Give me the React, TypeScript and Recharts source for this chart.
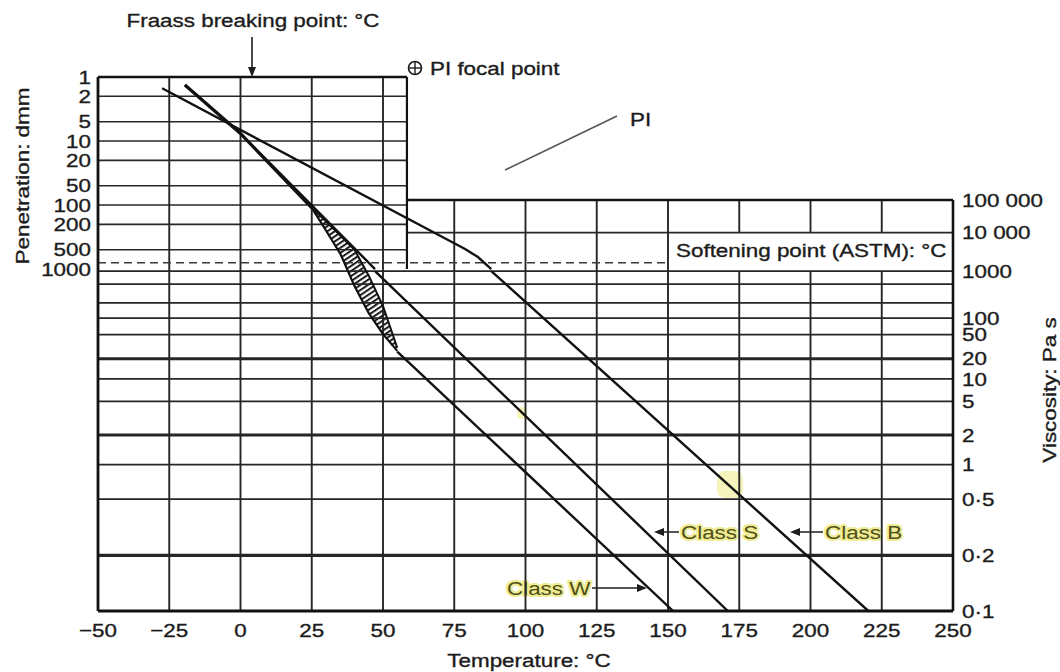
import React from "react";
import { ComposedChart, Line, Area, XAxis, YAxis, ReferenceLine } from "recharts";

// ---------- axis values ----------
const temperatureTicks = [-50, -25, 0, 25, 50, 75, 100, 125, 150, 175, 200, 225, 250];
const penetrationTicks = [1, 2, 5, 10, 20, 50, 100, 200, 500, 1000];
const viscosityTicks = [100000, 10000, 1000, 100, 50, 20, 10, 5, 2, 1, 0.5, 0.2, 0.1];
const viscosityTickLabels = ["100 000", "10 000", "1000", "100", "50", "20", "10", "5", "2", "1", "0·5", "0·2", "0·1"];

// ---------- grid values ----------
const penGridBox = [2, 5, 10, 20, 50, 100, 200, 500];
const viscGridFull = [0.5, 1, 5, 10, 50, 100, 200, 500, 1000];
const viscGridThick = [0.2, 2, 20];
const viscGridRight = [10000];
const tempGridFull = [-25, 0, 25, 50];
const tempGridRight = [75, 100, 125, 150];
const tempGridSplit = [175, 200, 225];
const boxEdgeTemp = 58.4;
const softeningPen = 800;
const softeningEndTemp = 150;

// ---------- series ----------
const classBPen = [
  { t: -27.5, pen: 1.5 },
  { t: 73.5, pen: 365 },
  { t: 78.8, pen: 487 },
  { t: 83.3, pen: 650 },
  { t: 88, pen: 1000 },
];
const classBVisc = [
  { t: 88, visc: 1000 },
  { t: 220.3, visc: 0.1 },
];
const classSPen = [
  { t: -19.5, pen: 1.33 },
  { t: -0.2, pen: 7.5 },
  { t: 47.2, pen: 1000 },
];
const classSVisc = [
  { t: 47.2, visc: 1000 },
  { t: 171, visc: 0.1 },
];
const classWPen = [
  { t: -19.5, pen: 1.33 },
  { t: -0.2, pen: 7.5 },
  { t: 25, pen: 111 },
];
const classWBand = [
  { t: 25, upper: 111, lower: 111 },
  { t: 30, upper: 180, lower: 250 },
  { t: 35, upper: 300, lower: 575 },
  { t: 40, upper: 500, lower: 1850 },
  { t: 45, upper: 1270, lower: 4900 },
  { t: 50, upper: 3800, lower: 10400 },
  { t: 55, upper: 17000, lower: 19000 },
];
const classWVisc = [
  { t: 55, visc: 26 },
  { t: 151.8, visc: 0.1 },
];

// viscosity scale of the chart: log(log(eta) + 2)
const vt = (v: number) => Math.log10(Math.log10(v) + 2);

const FONT = '"Liberation Sans", Arial, Helvetica, sans-serif';
const INK = "#1c1c1c";
const GRID = "#262626";
const SX = 1.18;

function WText(props: any) {
  const { x, y, children, anchor = "start", size = 19, fill = INK, rotate = 0, halo, dy = "0.35em" } = props;
  const strokeProps = halo
    ? { stroke: halo, strokeWidth: 4, paintOrder: "stroke", strokeLinejoin: "round" }
    : { stroke: fill, strokeWidth: 0.35 };
  return (
    <text
      transform={`translate(${x} ${y}) rotate(${rotate}) scale(${SX} 1)`}
      textAnchor={anchor}
      dy={dy}
      fontSize={size}
      fontFamily={FONT}
      fill={fill}
      {...strokeProps}
    >
      {children}
    </text>
  );
}

const fmtT = (v: number) => (v < 0 ? "\u2212" + Math.abs(v) : String(v));

const XTick = (p: any) => (
  <WText x={p.x} y={p.y} anchor="middle" dy="0.71em">
    {fmtT(p.payload.value)}
  </WText>
);
const PenTick = (p: any) => (
  <WText x={p.x} y={p.y} anchor="end">
    {String(Math.round(p.payload.value))}
  </WText>
);
const ViscTick = (p: any) => {
  const i = viscosityTicks.findIndex((t) => Math.abs(vt(t) - p.payload.value) < 1e-6);
  return (
    <WText x={p.x} y={p.y} anchor="start">
      {i >= 0 ? viscosityTickLabels[i] : ""}
    </WText>
  );
};

const lineCommon = {
  dot: false,
  activeDot: false,
  isAnimationActive: false,
  stroke: "#111",
  strokeWidth: 2.4,
  type: "linear" as const,
  xAxisId: 0,
};

export default function App() {
  return (
    <div style={{ position: "fixed", left: 0, top: 0, width: 1060, height: 672, background: "#fff" }}>
      <ComposedChart
        width={1060}
        height={672}
        margin={{ top: 77, right: 27, bottom: 21, left: 28 }}
        style={{ fontFamily: FONT }}
      >
        <defs>
          <pattern id="hatch" patternUnits="userSpaceOnUse" width="4.2" height="4.2" patternTransform="rotate(56)">
            <rect width="4.2" height="4.2" fill="#ffffff" />
            <line x1="1" y1="0" x2="1" y2="4.2" stroke="#1a1a1a" strokeWidth="2" />
          </pattern>
        </defs>

        <XAxis
          xAxisId={0}
          dataKey="t"
          type="number"
          domain={[-50, 250]}
          ticks={temperatureTicks}
          interval={0}
          allowDataOverflow
          axisLine={false}
          tickLine={false}
          tickSize={0}
          tickMargin={12}
          height={40}
          tick={XTick}
        />
        <YAxis
          yAxisId="pen"
          orientation="left"
          type="number"
          scale="log"
          domain={[1, 2.2e8]}
          reversed
          allowDataOverflow
          ticks={penetrationTicks}
          interval={0}
          axisLine={false}
          tickLine={false}
          tickSize={0}
          tickMargin={7}
          width={70}
          tick={PenTick}
        />
        <YAxis
          yAxisId="visc"
          orientation="right"
          type="number"
          domain={[0, 1.098]}
          allowDataOverflow
          ticks={viscosityTicks.map(vt)}
          interval={0}
          axisLine={false}
          tickLine={false}
          tickSize={0}
          tickMargin={9}
          width={80}
          tick={ViscTick}
        />

        {/* penetration box grid */}
        {penGridBox.map((p) => (
          <ReferenceLine
            key={"pg" + p}
            yAxisId="pen"
            ifOverflow="visible"
            segment={[{ x: -50, y: p }, { x: boxEdgeTemp, y: p }]}
            stroke={GRID}
            strokeWidth={1.7}
          />
        ))}
        {/* viscosity grid */}
        {viscGridFull.map((v) => (
          <ReferenceLine key={"vf" + v} yAxisId="visc" ifOverflow="visible" y={vt(v)} stroke={GRID} strokeWidth={1.7} />
        ))}
        {viscGridThick.map((v) => (
          <ReferenceLine key={"vt" + v} yAxisId="visc" ifOverflow="visible" y={vt(v)} stroke={GRID} strokeWidth={3.2} />
        ))}
        {viscGridRight.map((v) => (
          <ReferenceLine
            key={"vr" + v}
            yAxisId="visc"
            ifOverflow="visible"
            segment={[{ x: boxEdgeTemp, y: vt(v) }, { x: 250, y: vt(v) }]}
            stroke={GRID}
            strokeWidth={1.7}
          />
        ))}
        {/* vertical grid */}
        {tempGridFull.map((t) => (
          <ReferenceLine key={"tf" + t} yAxisId="visc" ifOverflow="visible" x={t} stroke={GRID} strokeWidth={1.9} />
        ))}
        {tempGridRight.map((t) => (
          <ReferenceLine
            key={"tr" + t}
            yAxisId="visc"
            ifOverflow="visible"
            segment={[{ x: t, y: vt(0.1) }, { x: t, y: vt(100000) }]}
            stroke={GRID}
            strokeWidth={1.9}
          />
        ))}
        {tempGridSplit.map((t) => (
          <ReferenceLine
            key={"ts1" + t}
            yAxisId="visc"
            ifOverflow="visible"
            segment={[{ x: t, y: vt(0.1) }, { x: t, y: vt(1000) }]}
            stroke={GRID}
            strokeWidth={1.9}
          />
        ))}
        {tempGridSplit.map((t) => (
          <ReferenceLine
            key={"ts2" + t}
            yAxisId="visc"
            ifOverflow="visible"
            segment={[{ x: t, y: vt(10000) }, { x: t, y: vt(100000) }]}
            stroke={GRID}
            strokeWidth={1.9}
          />
        ))}

        {/* softening point (ASTM) line */}
        <ReferenceLine
          yAxisId="pen"
          ifOverflow="visible"
          segment={[{ x: -50, y: softeningPen }, { x: softeningEndTemp, y: softeningPen }]}
          stroke="#3a3a3a"
          strokeWidth={1.5}
          strokeDasharray="8 5"
        />

        {/* borders */}
        <ReferenceLine yAxisId="visc" ifOverflow="visible" x={-50} stroke="#111" strokeWidth={2.8} />
        <ReferenceLine yAxisId="visc" ifOverflow="visible" y={vt(0.1)} stroke="#111" strokeWidth={3} />
        <ReferenceLine
          yAxisId="visc"
          ifOverflow="visible"
          segment={[{ x: 250, y: vt(0.1) }, { x: 250, y: vt(100000) }]}
          stroke="#111"
          strokeWidth={2.6}
        />
        <ReferenceLine
          yAxisId="visc"
          ifOverflow="visible"
          segment={[{ x: boxEdgeTemp, y: vt(100000) }, { x: 250, y: vt(100000) }]}
          stroke="#111"
          strokeWidth={2.6}
        />
        <ReferenceLine
          yAxisId="pen"
          ifOverflow="visible"
          segment={[{ x: -50, y: 1 }, { x: boxEdgeTemp, y: 1 }]}
          stroke="#111"
          strokeWidth={2.6}
        />
        <ReferenceLine
          yAxisId="pen"
          ifOverflow="visible"
          segment={[{ x: boxEdgeTemp, y: 1 }, { x: boxEdgeTemp, y: 1000 }]}
          stroke="#111"
          strokeWidth={2.2}
        />

        {/* Class W transition band */}
        <Area
          data={classWBand}
          xAxisId={0}
          yAxisId="pen"
          dataKey={(d: any) => [d.upper, d.lower]}
          type="linear"
          fill="url(#hatch)"
          fillOpacity={1}
          stroke="none"
          isAnimationActive={false}
          dot={false}
          activeDot={false}
        />
        <Line {...lineCommon} data={classWBand} yAxisId="pen" dataKey="upper" strokeWidth={2} />
        <Line {...lineCommon} data={classWBand} yAxisId="pen" dataKey="lower" strokeWidth={2.2} />

        {/* classes */}
        <Line {...lineCommon} data={classBPen} yAxisId="pen" dataKey="pen" />
        <Line {...lineCommon} data={classBVisc} yAxisId="visc" dataKey={(d: any) => vt(d.visc)} />
        <Line {...lineCommon} data={classSPen} yAxisId="pen" dataKey="pen" />
        <Line {...lineCommon} data={classSVisc} yAxisId="visc" dataKey={(d: any) => vt(d.visc)} />
        <Line {...lineCommon} data={classWPen} yAxisId="pen" dataKey="pen" strokeWidth={3.2} />
        <Line {...lineCommon} data={classWVisc} yAxisId="visc" dataKey={(d: any) => vt(d.visc)} />

        {/* highlighter marks */}
        <rect x={717} y={471} width={26} height={27} rx={8} fill="#f2f0a0" opacity={0.7} />
        <rect x={517} y={407} width={10} height={12} rx={4} fill="#f2f0a0" opacity={0.7} />

        {/* annotations */}
        <WText x={253} y={20} anchor="middle">Fraass breaking point: °C</WText>
        <line x1={252} y1={37} x2={252} y2={69} stroke={INK} strokeWidth={1.6} />
        <polygon points="252,77 248,67 256,67" fill={INK} />

        <circle cx={415} cy={68} r={6.5} fill="none" stroke={INK} strokeWidth={1.6} />
        <line x1={408.5} y1={68} x2={421.5} y2={68} stroke={INK} strokeWidth={1.4} />
        <line x1={415} y1={61.5} x2={415} y2={74.5} stroke={INK} strokeWidth={1.4} />
        <WText x={430} y={68}>PI focal point</WText>

        <line x1={505} y1={170} x2={617} y2={116} stroke="#555" strokeWidth={1.6} />
        <WText x={630} y={119}>PI</WText>

        <WText x={676} y={250}>Softening point (ASTM): °C</WText>

        <WText x={681} y={532} fill="#4d4e1a" halo="#efec92">Class S</WText>
        <line x1={679} y1={532} x2={662} y2={532} stroke={INK} strokeWidth={1.5} />
        <polygon points="654,532 664,528 664,536" fill={INK} />

        <WText x={825} y={532} fill="#4d4e1a" halo="#efec92">Class B</WText>
        <line x1={823} y1={532} x2={798} y2={532} stroke={INK} strokeWidth={1.5} />
        <polygon points="790,532 800,528 800,536" fill={INK} />

        <WText x={507} y={588} fill="#4d4e1a" halo="#efec92">Class W</WText>
        <line x1={592} y1={588} x2={638} y2={588} stroke={INK} strokeWidth={1.5} />
        <polygon points="647,588 637,584 637,592" fill={INK} />

        <WText x={22} y={176} anchor="middle" rotate={-90}>Penetration: dmm</WText>
        <WText x={1049} y={390} anchor="middle" rotate={-90}>Viscosity: Pa s</WText>
        <WText x={529} y={660} anchor="middle">Temperature: °C</WText>
      </ComposedChart>
    </div>
  );
}
